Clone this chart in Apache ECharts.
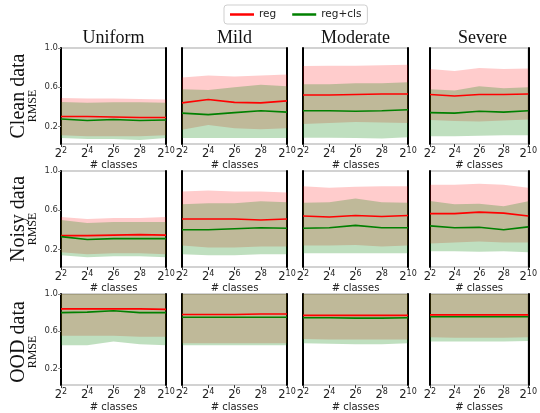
<!DOCTYPE html>
<html>
<head>
<meta charset="utf-8">
<script src="https://cdn.jsdelivr.net/npm/echarts@6/dist/echarts.min.js"></script>
<style>html,body{margin:0;padding:0;background:#fff}#c{width:540px;height:413px}</style>
</head>
<body>
<div id="c"></div>
<script>
const classes = [4, 16, 64, 256, 1024];
const columns = ['Uniform', 'Mild', 'Moderate', 'Severe'];
const rowLabels = ['Clean data', 'Noisy data', 'OOD data'];
const yTicks = [0.2, 0.6, 1.0];
const seriesNames = ['reg', 'reg+cls'];

// Clean data (each row: Uniform, Mild, Moderate, Severe)
const cleanRegMean = [[0.30,0.30,0.295,0.29,0.29],[0.44,0.475,0.445,0.44,0.46],[0.52,0.52,0.525,0.53,0.53],[0.525,0.51,0.525,0.525,0.53]];
const cleanRegHi   = [[0.49,0.485,0.485,0.48,0.475],[0.70,0.72,0.71,0.72,0.73],[0.815,0.82,0.82,0.825,0.83],[0.785,0.765,0.795,0.785,0.79]];
const cleanRegLo   = [[0.11,0.10,0.10,0.10,0.11],[0.165,0.215,0.18,0.17,0.18],[0.225,0.235,0.245,0.24,0.235],[0.265,0.255,0.25,0.26,0.27]];
const cleanClsMean = [[0.275,0.26,0.27,0.26,0.265],[0.335,0.32,0.34,0.36,0.345],[0.36,0.36,0.355,0.36,0.37],[0.34,0.335,0.355,0.345,0.36]];
const cleanClsHi   = [[0.45,0.44,0.445,0.445,0.44],[0.58,0.57,0.60,0.625,0.61],[0.63,0.63,0.64,0.64,0.65],[0.58,0.565,0.61,0.59,0.60]];
const cleanClsLo   = [[0.08,0.07,0.07,0.06,0.08],[0.08,0.08,0.08,0.08,0.08],[0.085,0.085,0.08,0.075,0.09],[0.10,0.10,0.105,0.11,0.11]];

// Noisy data
const noisyRegMean = [[0.34,0.34,0.345,0.35,0.345],[0.51,0.51,0.51,0.50,0.51],[0.54,0.53,0.545,0.535,0.545],[0.565,0.565,0.58,0.57,0.54]];
const noisyRegHi   = [[0.53,0.51,0.52,0.52,0.53],[0.79,0.80,0.79,0.79,0.78],[0.845,0.83,0.84,0.845,0.845],[0.86,0.86,0.87,0.86,0.83]];
const noisyRegLo   = [[0.17,0.15,0.16,0.16,0.15],[0.24,0.22,0.22,0.23,0.23],[0.24,0.24,0.245,0.23,0.24],[0.26,0.27,0.28,0.27,0.27]];
const noisyClsMean = [[0.33,0.30,0.31,0.31,0.31],[0.40,0.40,0.41,0.42,0.415],[0.415,0.42,0.445,0.42,0.42],[0.44,0.42,0.425,0.40,0.43]];
const noisyClsHi   = [[0.50,0.47,0.48,0.48,0.48],[0.66,0.67,0.67,0.69,0.68],[0.675,0.68,0.72,0.68,0.675],[0.695,0.66,0.665,0.64,0.69]];
const noisyClsLo   = [[0.14,0.12,0.13,0.13,0.12],[0.15,0.14,0.14,0.15,0.15],[0.16,0.16,0.16,0.16,0.16],[0.18,0.18,0.175,0.18,0.17]];

// OOD data
const oodRegMean = [[0.84,0.84,0.84,0.84,0.835],[0.78,0.78,0.78,0.785,0.785],[0.77,0.77,0.77,0.77,0.77],[0.775,0.775,0.775,0.775,0.775]];
const oodRegHi   = [[1.15,1.15,1.15,1.15,1.15],[1.15,1.15,1.15,1.15,1.15],[1.15,1.15,1.15,1.15,1.15],[1.15,1.15,1.15,1.15,1.15]];
const oodRegLo   = [[0.55,0.55,0.55,0.54,0.54],[0.47,0.47,0.47,0.47,0.47],[0.515,0.51,0.51,0.51,0.51],[0.535,0.53,0.53,0.53,0.535]];
const oodClsMean = [[0.80,0.805,0.82,0.80,0.80],[0.75,0.75,0.75,0.75,0.75],[0.745,0.745,0.74,0.74,0.745],[0.755,0.755,0.755,0.755,0.755]];
const oodClsHi   = [[1.1,1.1,1.1,1.1,1.1],[1.1,1.1,1.1,1.1,1.1],[1.1,1.1,1.1,1.1,1.1],[1.1,1.1,1.1,1.1,1.1]];
const oodClsLo   = [[0.45,0.45,0.49,0.46,0.45],[0.45,0.45,0.45,0.45,0.45],[0.47,0.465,0.46,0.46,0.47],[0.49,0.49,0.49,0.49,0.495]];

const rowData = [
  {regMean: cleanRegMean, regHi: cleanRegHi, regLo: cleanRegLo, clsMean: cleanClsMean, clsHi: cleanClsHi, clsLo: cleanClsLo},
  {regMean: noisyRegMean, regHi: noisyRegHi, regLo: noisyRegLo, clsMean: noisyClsMean, clsHi: noisyClsHi, clsLo: noisyClsLo},
  {regMean: oodRegMean, regHi: oodRegHi, regLo: oodRegLo, clsMean: oodClsMean, clsHi: oodClsHi, clsLo: oodClsLo}
];

const colLeft = [61, 182, 303, 430];
const colWidth = 105;
const rowTop = [48, 171, 294];
const rowHeight = 96;

const RED = '#ff0000', GREEN = '#008000';
const xCats = classes.map(c => String(Math.log2(c)));
const diff = (hi, lo) => hi.map((v, i) => v - lo[i]);

const grids = [], xAxes = [], yAxes = [], series = [], graphics = [];
let gi = 0;
for (let r = 0; r < 3; r++) {
  for (let c = 0; c < 4; c++) {
    grids.push({left: colLeft[c], top: rowTop[r], width: colWidth, height: rowHeight,
      show: true, borderColor: '#c4c4c4', borderWidth: 1.5, backgroundColor: 'transparent'});
    xAxes.push({type: 'category', gridIndex: gi, data: xCats, boundaryGap: false,
      axisLine: {show: false},
      axisTick: {show: true, length: 3, alignWithLabel: true, lineStyle: {color: '#333', width: 1}},
      splitLine: {show: false},
      axisLabel: {margin: 3, interval: 0, showMinLabel: true, showMaxLabel: true,
        formatter: v => '{b|2}{s|' + v + '}',
        rich: {b: {fontSize: 11.5, fontFamily: 'DejaVu Sans', color: '#222', verticalAlign: 'bottom', lineHeight: 13},
               s: {fontSize: 8, fontFamily: 'DejaVu Sans', color: '#222', verticalAlign: 'top', lineHeight: 13, padding: [0, 0, 5, 0]}}},
      name: '# classes', nameLocation: 'middle', nameGap: 13,
      nameTextStyle: {fontSize: 10, fontFamily: 'DejaVu Sans', color: '#222'}});
    yAxes.push({type: 'value', gridIndex: gi, min: 0.02, max: 1.0, position: 'left',
      axisLine: {show: true, onZero: false, lineStyle: {color: '#000', width: 2}},
      axisTick: {show: c === 0, length: 3, customValues: yTicks, lineStyle: {color: '#888'}},
      axisLabel: {show: c === 0, customValues: yTicks, margin: 3, formatter: v => v.toFixed(1),
        fontSize: 8.5, fontFamily: 'DejaVu Sans', color: '#333'},
      splitLine: {show: false}});
    const yl = yAxes.length - 1;
    yAxes.push({type: 'value', gridIndex: gi, min: 0.02, max: 1.0, position: 'right',
      axisLine: {show: true, onZero: false, lineStyle: {color: '#000', width: 2}},
      axisTick: {show: false}, axisLabel: {show: false}, splitLine: {show: false}});
    const d = rowData[r];
    const base = {type: 'line', xAxisIndex: gi, yAxisIndex: yl, symbol: 'none', silent: true, animation: false};
    series.push(Object.assign({}, base, {name: 'regLo', stack: 'r' + gi, data: d.regLo[c], lineStyle: {width: 0, opacity: 0}}));
    series.push(Object.assign({}, base, {name: 'regBand', stack: 'r' + gi, data: diff(d.regHi[c], d.regLo[c]), lineStyle: {width: 0, opacity: 0}, areaStyle: {color: 'rgba(255,0,0,0.2)', opacity: 1}}));
    series.push(Object.assign({}, base, {name: 'clsLo', stack: 'c' + gi, data: d.clsLo[c], lineStyle: {width: 0, opacity: 0}}));
    series.push(Object.assign({}, base, {name: 'clsBand', stack: 'c' + gi, data: diff(d.clsHi[c], d.clsLo[c]), lineStyle: {width: 0, opacity: 0}, areaStyle: {color: 'rgba(0,128,0,0.25)', opacity: 1}}));
    series.push(Object.assign({}, base, {name: seriesNames[0], data: d.regMean[c], lineStyle: {color: RED, width: 1.6}, itemStyle: {color: RED}, z: 5}));
    series.push(Object.assign({}, base, {name: seriesNames[1], data: d.clsMean[c], lineStyle: {color: GREEN, width: 1.6}, itemStyle: {color: GREEN}, z: 5}));
    gi++;
  }
}

columns.forEach((t, c) => {
  graphics.push({type: 'text', x: colLeft[c] + colWidth / 2, y: 38,
    style: {text: t, font: '18px "Liberation Serif"', fill: '#111', align: 'center', verticalAlign: 'middle'}});
});
rowLabels.forEach((t, r) => {
  const cy = rowTop[r] + rowHeight / 2;
  graphics.push({type: 'text', x: 19, y: cy, rotation: Math.PI / 2,
    style: {text: t, font: '20px "Liberation Serif"', fill: '#111', align: 'center', verticalAlign: 'middle'}});
  graphics.push({type: 'text', x: 33, y: cy + 10, rotation: Math.PI / 2,
    style: {text: 'RMSE', font: '12px "Liberation Serif"', fill: '#111', align: 'center', verticalAlign: 'middle'}});
});

const chart = echarts.init(document.getElementById('c'), null, {renderer: 'canvas'});
chart.setOption({
  animation: false,
  backgroundColor: '#fff',
  legend: {data: seriesNames, left: 224, top: 5, icon: 'rect', itemWidth: 24, itemHeight: 2.5, itemGap: 16,
    borderColor: '#cfcfcf', borderWidth: 1, borderRadius: 3, padding: [4, 6, 4, 6],
    textStyle: {fontSize: 10.5, fontFamily: 'DejaVu Sans', color: '#222'}},
  grid: grids, xAxis: xAxes, yAxis: yAxes, series: series, graphic: graphics
});
</script>
</body>
</html>
